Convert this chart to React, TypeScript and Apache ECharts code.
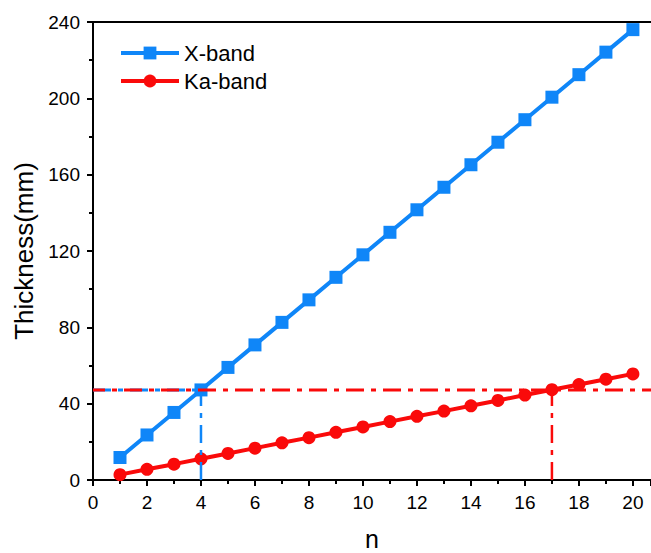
import React, { useEffect, useRef } from "react";
import * as echarts from "echarts";

const nValues = [1, 2, 3, 4, 5, 6, 7, 8, 9, 10, 11, 12, 13, 14, 15, 16, 17, 18, 19, 20];
const xBand = [11.8, 23.6, 35.4, 47.2, 59.0, 70.8, 82.6, 94.4, 106.2, 118.0, 129.8, 141.6, 153.4, 165.2, 177.0, 188.8, 200.6, 212.4, 224.2, 236.0];
const kaBand = [2.8, 5.6, 8.3, 11.1, 13.9, 16.7, 19.5, 22.2, 25.0, 27.8, 30.6, 33.4, 36.1, 38.9, 41.7, 44.5, 47.3, 50.0, 52.8, 55.6];
const targetThickness = 47.2;
const xBandN = 4;
const kaBandN = 17;
const xMin = 0;
const xMax = 20.67;
const yMin = 0;
const yMax = 240;

const BLUE = "#0F86F8";
const RED = "#FA0A0A";
const FONT = "Liberation Sans";

export default function App() {
  const ref = useRef<HTMLDivElement>(null);
  useEffect(() => {
    if (!ref.current) return;
    const chart = echarts.init(ref.current, null, { renderer: "svg" });
    const dashDot = [18, 7, 5, 7];
    chart.setOption({
      animation: false,
      backgroundColor: "#fff",
      grid: { left: 93, right: 0, top: 22, bottom: 73, outerBoundsMode: "none", containLabel: false },
      legend: {
        orient: "vertical",
        left: 114,
        top: 37,
        itemWidth: 58,
        itemHeight: 16,
        itemGap: 6,
        data: ["X-band", "Ka-band"],
        lineStyle: { width: 4 },
        textStyle: { fontFamily: FONT, fontSize: 22, color: "#000", padding: [0, 0, 0, 0] },
      },
      xAxis: [
        {
          type: "value",
          min: xMin,
          max: xMax,
          interval: 2,
          name: "n",
          nameLocation: "middle",
          nameGap: 46,
          nameTextStyle: { fontFamily: FONT, fontSize: 25, color: "#000" },
          axisLine: { lineStyle: { color: "#000", width: 2 } },
          axisTick: { length: 6, lineStyle: { color: "#000", width: 2 } },
          minorTick: { show: true, splitNumber: 2, length: 4, lineStyle: { color: "#000", width: 2 } },
          axisLabel: { fontFamily: FONT, fontSize: 19, color: "#000", margin: 13, showMaxLabel: false },
          splitLine: { show: false },
        },
        {
          type: "value",
          position: "top",
          min: xMin,
          max: xMax,
          axisLine: { show: true, lineStyle: { color: "#000", width: 2 } },
          axisTick: { show: false },
          axisLabel: { show: false },
          splitLine: { show: false },
        },
      ],
      yAxis: {
        type: "value",
        min: yMin,
        max: yMax,
        interval: 40,
        name: "Thickness(mm)",
        nameLocation: "middle",
        nameGap: 54,
        nameTextStyle: { fontFamily: FONT, fontSize: 26, color: "#000" },
        axisLine: { show: true, lineStyle: { color: "#000", width: 2 } },
        axisTick: { show: true, length: 6, lineStyle: { color: "#000", width: 2 } },
        minorTick: { show: true, splitNumber: 2, length: 4, lineStyle: { color: "#000", width: 2 } },
        axisLabel: { fontFamily: FONT, fontSize: 19, color: "#000", margin: 13 },
        splitLine: { show: false },
      },
      series: [
        {
          name: "X-band",
          type: "line",
          data: nValues.map((n, i) => [n, xBand[i]]),
          symbol: "rect",
          symbolSize: 13,
          lineStyle: { color: BLUE, width: 4 },
          itemStyle: { color: BLUE },
          z: 3,
        },
        {
          name: "Ka-band",
          type: "line",
          data: nValues.map((n, i) => [n, kaBand[i]]),
          symbol: "circle",
          symbolSize: 13,
          lineStyle: { color: RED, width: 4 },
          itemStyle: { color: RED },
          z: 3,
        },
        {
          name: "refBlueH",
          type: "line",
          data: [[xMin, targetThickness], [xBandN, targetThickness]],
          symbol: "none",
          lineStyle: { color: BLUE, width: 3, type: dashDot },
          z: 4,
        },
        {
          name: "refBlueV",
          type: "line",
          data: [[xBandN, yMin], [xBandN, targetThickness]],
          symbol: "none",
          lineStyle: { color: BLUE, width: 2.5, type: dashDot },
          z: 4,
        },
        {
          name: "refRedH",
          type: "line",
          data: [[xMin, targetThickness], [xMax, targetThickness]],
          symbol: "none",
          lineStyle: { color: RED, width: 3, type: dashDot, dashOffset: 6 },
          z: 5,
        },
        {
          name: "refRedV",
          type: "line",
          data: [[kaBandN, yMin], [kaBandN, targetThickness]],
          symbol: "none",
          lineStyle: { color: RED, width: 2.5, type: dashDot },
          z: 4,
        },
      ],
    });
    return () => chart.dispose();
  }, []);
  return <div ref={ref} style={{ width: 651, height: 553, position: "absolute", left: 0, top: 0 }} />;
}
